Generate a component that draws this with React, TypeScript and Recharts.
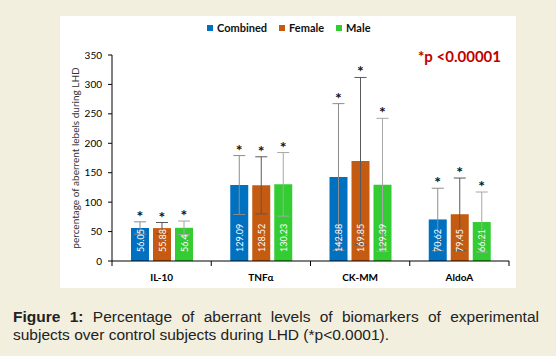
import React from 'react';
import { BarChart, Bar, XAxis, YAxis, ErrorBar, LabelList, Label } from 'recharts';

const categories = ['IL-10', 'TNFα', 'CK-MM', 'AldoA'];
const combined = [56.05, 129.09, 142.88, 70.62];
const female = [55.88, 128.52, 169.85, 79.45];
const male = [56.4, 130.23, 129.39, 66.21];
// standard deviations
const combinedErr = [10.5, 50, 124.5, 53];
const femaleErr = [9.5, 48.5, 142, 61.5];
const maleErr = [11.5, 54, 113, 51];
const yTicks = [0, 50, 100, 150, 200, 250, 300, 350];

const FONT = 'Lato, "Open Sans", sans-serif';

const series = [
  { key: 'combined', name: 'Combined', color: '#0070c0', errColor: '#8c8c8c' },
  { key: 'female', name: 'Female', color: '#c55a11', errColor: '#595959' },
  { key: 'male', name: 'Male', color: '#33cc33', errColor: '#a6a6a6' },
];

const data = categories.map((name, i) => ({
  name,
  combined: combined[i],
  female: female[i],
  male: male[i],
  combinedErr: combinedErr[i],
  femaleErr: femaleErr[i],
  maleErr: maleErr[i],
}));

const starLabel = (errKey: string) => (props: any) => {
  const { x, y, width, height, value, index } = props;
  const err = (data[index] as any)[errKey];
  const top = y - (err * height) / value;
  return (
    <text x={x + width / 2} y={top} textAnchor="middle" fontSize={16} fontWeight="bold" fill="#111" fontFamily={FONT}>
      *
    </text>
  );
};

const valueLabel = (props: any) => {
  const { x, y, width, height, value } = props;
  const cx = x + width / 2;
  const by = y + height - 9;
  return (
    <text
      x={cx}
      y={by}
      transform={`rotate(-90 ${cx} ${by})`}
      textAnchor="start"
      dominantBaseline="central"
      fill="#fff"
      fontSize={9}
      fontFamily={FONT}
    >
      {value}
    </text>
  );
};

const CategoryTick = (props: any) => {
  const { x, y, payload, index } = props;
  const axisY = y - 8;
  const half = payload && payload.offset ? payload.offset : 49.6;
  return (
    <g>
      <line x1={x - half} x2={x - half} y1={axisY} y2={axisY + 5} stroke="#000" />
      {index === categories.length - 1 && (
        <line x1={x + half} x2={x + half} y1={axisY} y2={axisY + 5} stroke="#000" />
      )}
      <text x={x} y={axisY + 20} textAnchor="middle" fontSize={10} fontWeight="bold" fill="#000" fontFamily={FONT}>
        {payload.value}
      </text>
    </g>
  );
};

export default function App() {
  return (
    <div style={{ position: 'absolute', left: 0, top: 0, width: 556, height: 356, background: '#f2efdf', fontFamily: FONT }}>
      <div style={{ position: 'absolute', left: 60, top: 16, width: 456, height: 272, background: '#fff' }}>
        <BarChart
          width={456}
          height={272}
          data={data}
          margin={{ top: 39, right: 7, bottom: 0, left: 0 }}
          barCategoryGap={19}
          barGap={4}
        >
          <XAxis
            dataKey="name"
            height={27}
            tickSize={5}
            tickMargin={3}
            tickLine={false}
            axisLine={{ stroke: '#000' }}
            tick={<CategoryTick />}
            interval={0}
          />
          <YAxis
            width={52}
            domain={[0, 350]}
            ticks={yTicks}
            tickSize={4}
            tickMargin={6}
            axisLine={{ stroke: '#000' }}
            tickLine={{ stroke: '#000' }}
            tick={{ fontSize: 10, fill: '#000', fontFamily: FONT }}
          >
            <Label
              content={(p: any) => {
                const vb = p.viewBox;
                const cx = vb.x + 15;
                const cy = vb.y + vb.height / 2;
                return (
                  <text
                    x={cx}
                    y={cy}
                    transform={`rotate(-90 ${cx} ${cy})`}
                    textAnchor="middle"
                    dominantBaseline="central"
                    fontSize={10}
                    fill="#333"
                    fontFamily={FONT}
                  >
                    percentage of aberrent lebels during LHD
                  </text>
                );
              }}
            />
          </YAxis>
          {series.map((s) => (
            <Bar key={s.key} dataKey={s.key} name={s.name} fill={s.color} isAnimationActive={false}>
              <ErrorBar dataKey={s.key + 'Err'} width={6} stroke={s.errColor} strokeWidth={1} />
              <LabelList dataKey={s.key} content={valueLabel} />
              <LabelList dataKey={s.key} content={starLabel(s.key + 'Err')} />
            </Bar>
          ))}
        </BarChart>
        <div style={{ position: 'absolute', left: 147, top: 5, display: 'flex', alignItems: 'center', fontSize: 11, fontWeight: 'bold', color: '#111' }}>
          {series.map((s) => (
            <div key={s.key} style={{ display: 'flex', alignItems: 'center', marginRight: 12 }}>
              <span style={{ width: 6, height: 6, background: s.color, marginRight: 4, display: 'inline-block' }} />
              {s.name}
            </div>
          ))}
        </div>
        <div style={{ position: 'absolute', left: 358, top: 31, fontSize: 15, fontWeight: 'bold', color: '#c00000' }}>
          *p &lt;0.00001
        </div>
      </div>
      <div style={{ position: 'absolute', left: 13, top: 308, width: 526, fontFamily: '"Liberation Sans", Arial, sans-serif', fontSize: 15.5, lineHeight: '18px', color: '#222' }}>
        <div style={{ textAlign: 'justify', textAlignLast: 'justify' }}>
          <b>Figure 1:</b> Percentage of aberrant levels of biomarkers of experimental
        </div>
        <div>subjects over control subjects during LHD (*p&lt;0.0001).</div>
      </div>
    </div>
  );
}
